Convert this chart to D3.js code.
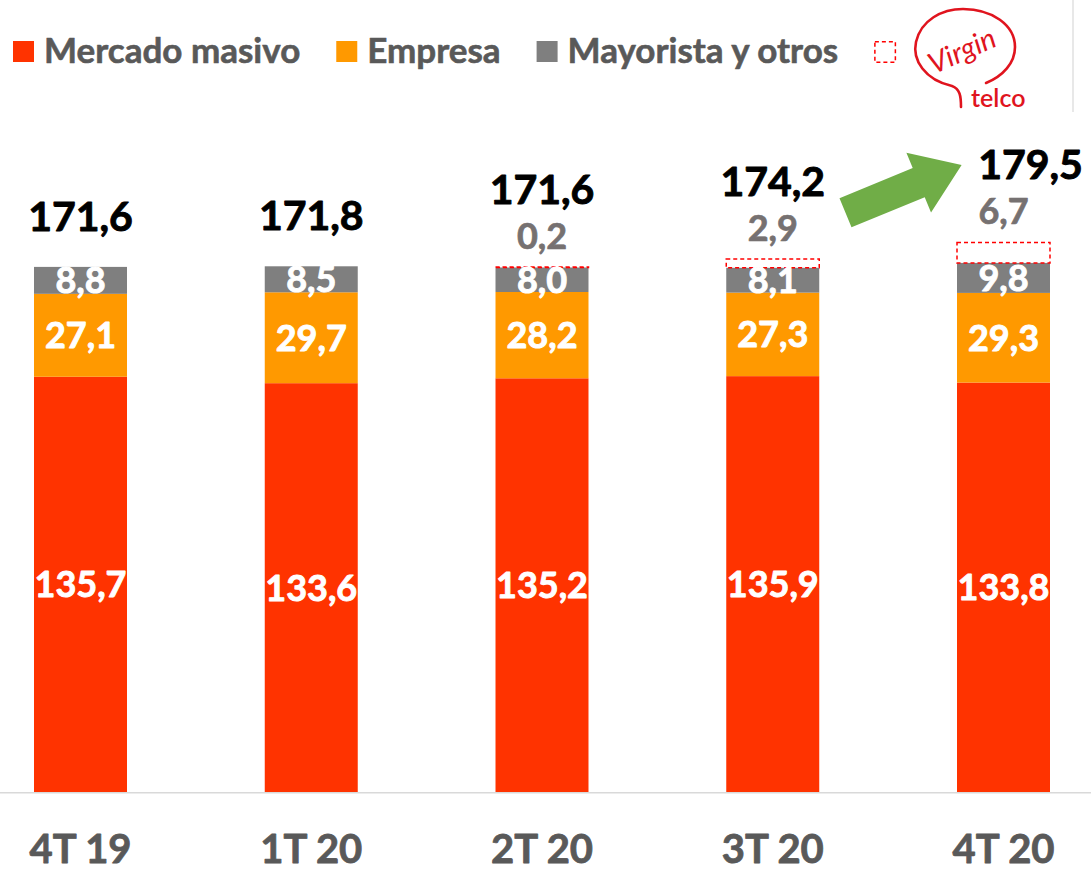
<!DOCTYPE html>
<html><head><meta charset="utf-8">
<script src="https://cdn.jsdelivr.net/npm/d3@7"></script>
<style>
body{margin:0;background:#fff}
svg{display:block}
text{font-family:Lato,"Open Sans",sans-serif}
</style>
</head><body>
<svg id="chart" width="1091" height="872"></svg>
<script>
// ---- data ----
const categories = ["4T 19","1T 20","2T 20","3T 20","4T 20"];
const masivo     = [135.7,133.6,135.2,135.9,133.8];
const empresa    = [27.1,29.7,28.2,27.3,29.3];
const mayorista  = [8.8,8.5,8.0,8.1,9.8];
const virgin     = [0,0,0.2,2.9,6.7];
const totals     = [171.6,171.8,171.6,174.2,179.5];
const seriesNames = ["Mercado masivo","Empresa","Mayorista y otros"];

// ---- styles ----
const seriesKeys = ["masivo","empresa","mayorista"];
const seriesColors = ["#ff3300","#ff9900","#7f7f7f"];
const W = 1091, H = 872;
const svg = d3.select("#chart");
svg.append("rect").attr("width",W).attr("height",H).attr("fill","#fff");

const loc = d3.formatLocale({decimal:",",thousands:".",grouping:[3],currency:["","€"]});
const fmt = loc.format(".1f");

const rows = categories.map((c,i)=>({cat:c, masivo:masivo[i], empresa:empresa[i], mayorista:mayorista[i], virgin:virgin[i], total:totals[i]}));
const stack = d3.stack().keys(["masivo","empresa","mayorista","virgin"]);
const series = stack(rows);

const baseY = 792;
const x = d3.scaleBand().domain(categories).range([80.5-115.375, 1003.5+115.375]).paddingInner(0.597).paddingOuter(0.2985);
const y = d3.scaleLinear().domain([0,180]).range([baseY, baseY-180*3.06]);

function heavy(sel, color, w){
  return sel.attr("fill",color).attr("stroke",color).attr("stroke-width",w).attr("stroke-linejoin","round");
}

// axis line
svg.append("line").attr("x1",0).attr("x2",W).attr("y1",baseY+0.7).attr("y2",baseY+0.7)
  .attr("stroke","#d9d9d9").attr("stroke-width",1.6);

// bars
const g = svg.append("g");
series.slice(0,3).forEach((s,si)=>{
  g.selectAll(null).data(s).join("rect")
    .attr("x",d=>x(d.data.cat)).attr("width",x.bandwidth())
    .attr("y",d=>y(d[1])).attr("height",d=>y(d[0])-y(d[1]))
    .attr("fill",seriesColors[si]);
});
// virgin dashed boxes
g.selectAll(null).data(series[3].filter(d=>d.data.virgin>0)).join("rect")
  .attr("x",d=>x(d.data.cat)).attr("width",x.bandwidth())
  .attr("y",d=>y(d[1])).attr("height",d=>Math.max(0.6,y(d[0])-y(d[1])))
  .attr("fill","none").attr("stroke","#ff0000").attr("stroke-width",1.5).attr("stroke-dasharray","4,3");

// white segment labels
const segSize = 36;
series.slice(0,3).forEach((s,si)=>{
  heavy(svg.selectAll(null).data(s).join("text")
    .attr("x",d=>x(d.data.cat)+x.bandwidth()/2)
    .attr("y",d=>(y(d[0])+y(d[1]))/2 + segSize*0.36)
    .attr("text-anchor","middle").attr("font-weight",700)
    .attr("font-size",segSize)
    .text(d=>fmt(d.data[seriesKeys[si]])), "#fff", 0.9);
});

// virgin labels
heavy(svg.selectAll(null).data(series[3].filter(d=>d.data.virgin>0)).join("text")
  .attr("x",d=>x(d.data.cat)+x.bandwidth()/2)
  .attr("y",d=>y(d[1])-18)
  .attr("text-anchor","middle").attr("font-weight",700)
  .attr("font-size",36)
  .text(d=>fmt(d.data.virgin)), "#767171", 0.7);

// totals
const lastShift = 27;
heavy(svg.selectAll(null).data(series[3]).join("text")
  .attr("x",(d,i)=>x(d.data.cat)+x.bandwidth()/2 + (i===categories.length-1?lastShift:0))
  .attr("y",d=>d.data.virgin>0 ? y(d[1])-18-45 : y(d[1])-36)
  .attr("text-anchor","middle").attr("font-weight",700)
  .attr("font-size",41)
  .text(d=>fmt(d.data.total)), "#000", 0.9);

// category labels
heavy(svg.selectAll(null).data(categories).join("text")
  .attr("x",d=>x(d)+x.bandwidth()/2).attr("y",863)
  .attr("text-anchor","middle").attr("font-weight",700)
  .attr("font-size",40).text(d=>d), "#595959", 0.8);

// green arrow
svg.append("g").attr("transform","translate(845.5,212.8) rotate(-22.4)")
  .append("path").attr("d","M0,-15.75 L79.2,-15.75 L79.2,-32.3 L125.6,0 L79.2,32.3 L79.2,15.75 L0,15.75 Z")
  .attr("fill","#70ad47");

// legend
const leg = svg.append("g");
let lx = 13;
seriesNames.forEach((name,i)=>{
  leg.append("rect").attr("x",lx).attr("y",41).attr("width",21).attr("height",21).attr("fill",seriesColors[i]);
  const t = heavy(leg.append("text").attr("x",lx+31).attr("y",63)
    .attr("font-weight",700).attr("font-size",35).text(name), "#595959", 0.6);
  lx = lx + 31 + t.node().getComputedTextLength() + 36;
});
leg.append("rect").attr("x",lx+0.75).attr("y",41.75).attr("width",20.5).attr("height",20.5)
  .attr("fill","none").attr("stroke","#ff0000").attr("stroke-width",1.5).attr("stroke-dasharray","4,3");

// Virgin telco logo
const logo = svg.append("g");
const red = "#e0141e";
logo.append("path")
  .attr("d","M961,107 C961,96 960,89 952,86 C925,80 912,60 916,42 C921,20 942,9 963,9 C992,9 1015,25 1015,47 C1015,63 1003,76 986,83")
  .attr("fill","none").attr("stroke",red).attr("stroke-width",2.6).attr("stroke-linecap","round");
logo.append("text").attr("transform","translate(966,60) rotate(-24)")
  .attr("text-anchor","middle").attr("fill",red)
  .attr("font-family","'DejaVu Serif',serif").attr("font-style","italic").attr("font-weight",400)
  .attr("font-size",29).text("Virgin");
logo.append("text").attr("x",971).attr("y",107).attr("fill",red)
  .attr("font-family","'Open Sans',sans-serif").attr("font-weight",600)
  .attr("font-size",25).text("telco");

// right thin separator line
svg.append("line").attr("x1",1073).attr("x2",1073).attr("y1",0).attr("y2",112)
  .attr("stroke","#d9d9d9").attr("stroke-width",1.2);
</script>
</body></html>
